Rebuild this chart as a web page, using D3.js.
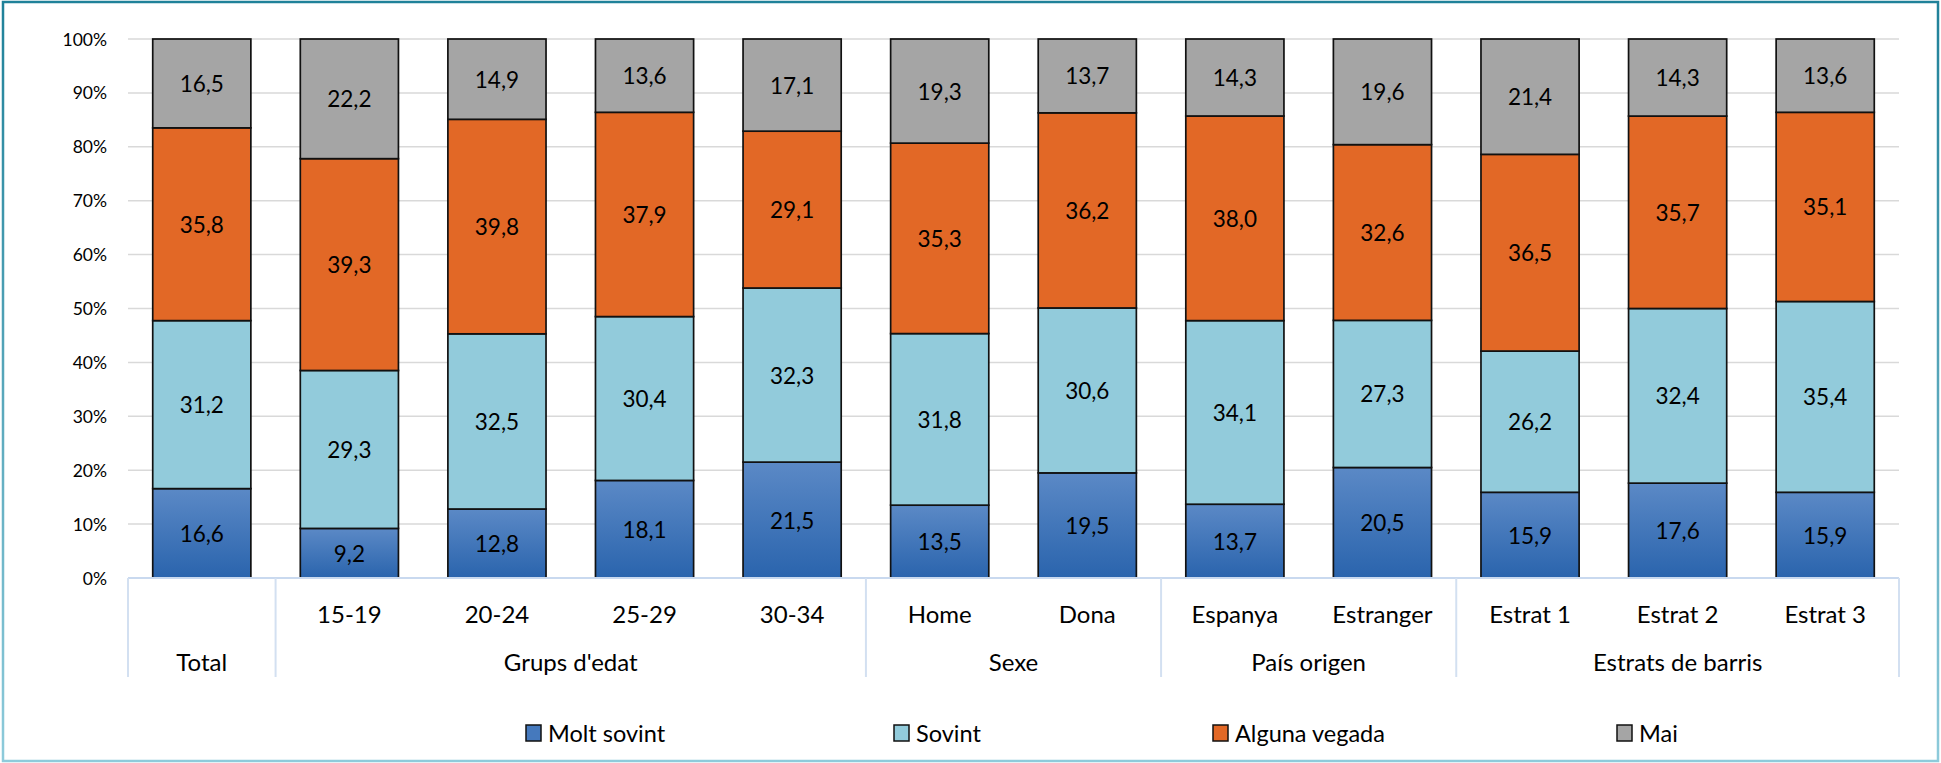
<!DOCTYPE html>
<html>
<head>
<meta charset="utf-8">
<script src="https://cdn.jsdelivr.net/npm/d3@7"></script>
<style>
  body { margin: 0; background: #fff; }
  svg { display: block; font-family: Lato, "Open Sans", sans-serif; }
</style>
</head>
<body>
<svg width="1941" height="763"></svg>
<script>
// categories (first one has no tier-1 label, only the group "Total")
var catLabels = ["", "15-19", "20-24", "25-29", "30-34", "Home", "Dona", "Espanya", "Estranger", "Estrat 1", "Estrat 2", "Estrat 3"];
var groupNames = ["Total", "Grups d'edat", "Sexe", "País origen", "Estrats de barris"];
var groupSizes = [1, 4, 2, 2, 3];

var seriesNames = ["Molt sovint", "Sovint", "Alguna vegada", "Mai"];
var moltSovint = [16.6, 9.2, 12.8, 18.1, 21.5, 13.5, 19.5, 13.7, 20.5, 15.9, 17.6, 15.9];
var sovint = [31.2, 29.3, 32.5, 30.4, 32.3, 31.8, 30.6, 34.1, 27.3, 26.2, 32.4, 35.4];
var algunaVegada = [35.8, 39.3, 39.8, 37.9, 29.1, 35.3, 36.2, 38.0, 32.6, 36.5, 35.7, 35.1];
var mai = [16.5, 22.2, 14.9, 13.6, 17.1, 19.3, 13.7, 14.3, 19.6, 21.4, 14.3, 13.6];

var yTicks = [0, 0.1, 0.2, 0.3, 0.4, 0.5, 0.6, 0.7, 0.8, 0.9, 1];

var colors = ["url(#blueGrad)", "#92cbdb", "#e26826", "#a5a5a5"];
var swatch = ["#4579bd", "#92cbdb", "#e26826", "#a5a5a5"];

var svg = d3.select("svg");
var width = +svg.attr("width"),
    height = +svg.attr("height");

var plotLeft = 128, plotRight = 1899, plotTop = 39, plotBottom = 578;
var legendX = [526, 894, 1213, 1617];  // where each legend swatch sits

var defs = svg.append("defs");
var bg = defs.append("linearGradient").attr("id", "blueGrad")
  .attr("x1", 0).attr("y1", 0).attr("x2", 0).attr("y2", 1);
bg.append("stop").attr("offset", "0%").attr("stop-color", "#5b89c6");
bg.append("stop").attr("offset", "100%").attr("stop-color", "#2a64ad");

var borderGrad = defs.append("linearGradient").attr("id", "borderGrad")
  .attr("gradientUnits", "userSpaceOnUse")
  .attr("x1", 0).attr("y1", 0).attr("x2", 0).attr("y2", height);
borderGrad.append("stop").attr("offset", "0%").attr("stop-color", "#1f8199");
borderGrad.append("stop").attr("offset", "100%").attr("stop-color", "#8ecbdb");

var table = moltSovint.map(function(v, i) {
  return {idx: i, "Molt sovint": v, "Sovint": sovint[i], "Alguna vegada": algunaVegada[i], "Mai": mai[i]};
});

var x = d3.scaleBand()
  .domain(d3.range(catLabels.length))
  .range([plotLeft, plotRight])
  .paddingInner(0.335)
  .paddingOuter(0.1675);

var y = d3.scaleLinear().domain([0, 1]).range([plotBottom, plotTop]);

var comma = d3.formatLocale({decimal: ",", thousands: ".", grouping: [3], currency: ["", "€"]}).format(".1f");

// gridlines
svg.append("g").selectAll("line")
  .data(yTicks.slice(1))
  .enter().append("line")
    .attr("x1", plotLeft).attr("x2", plotRight)
    .attr("y1", function(d) { return y(d); })
    .attr("y2", function(d) { return y(d); })
    .attr("stroke", "#d9d9d9")
    .attr("stroke-width", 1.5);

// y tick labels
svg.append("g").selectAll("text")
  .data(yTicks)
  .enter().append("text")
    .attr("x", 107)
    .attr("y", function(d) { return y(d); })
    .attr("text-anchor", "end")
    .attr("dominant-baseline", "central")
    .attr("font-size", 17.5)
    .attr("fill", "#000")
    .text(d3.format(".0%"));

// stacked bars
var stack = d3.stack().keys(seriesNames).offset(d3.stackOffsetExpand);
var series = stack(table);

var layer = svg.append("g").selectAll("g")
  .data(series)
  .enter().append("g")
    .attr("fill", function(d, i) { return colors[i]; });

layer.selectAll("rect")
  .data(function(d) { return d; })
  .enter().append("rect")
    .attr("x", function(d) { return x(d.data.idx); })
    .attr("y", function(d) { return y(d[1]); })
    .attr("width", x.bandwidth())
    .attr("height", function(d) { return y(d[0]) - y(d[1]); })
    .attr("stroke", "#111")
    .attr("stroke-width", 1.7);

// data labels
var labelG = svg.append("g");
series.forEach(function(s) {
  labelG.selectAll(null)
    .data(s)
    .enter().append("text")
      .attr("x", function(d) { return x(d.data.idx) + x.bandwidth() / 2; })
      .attr("y", function(d) { return (y(d[0]) + y(d[1])) / 2; })
      .attr("text-anchor", "middle")
      .attr("dominant-baseline", "central")
      .attr("font-size", 22.5)
      .attr("fill", "#000")
      .text(function(d) { return comma(d.data[s.key]); });
});

// category axis
var axisBottom = 677;
svg.append("line")
  .attr("x1", plotLeft).attr("x2", plotRight)
  .attr("y1", plotBottom).attr("y2", plotBottom)
  .attr("stroke", "#c9d9ef").attr("stroke-width", 2);

var step = x.step();
var bounds = [0];
groupSizes.forEach(function(n, i) { bounds.push(bounds[i] + n); });

svg.append("g").selectAll("line")
  .data(bounds)
  .enter().append("line")
    .attr("x1", function(k) { return plotLeft + k * step; })
    .attr("x2", function(k) { return plotLeft + k * step; })
    .attr("y1", plotBottom).attr("y2", axisBottom)
    .attr("stroke", "#d3e0f1").attr("stroke-width", 2);

svg.append("g").selectAll("text")
  .data(catLabels)
  .enter().append("text")
    .attr("x", function(d, i) { return x(i) + x.bandwidth() / 2; })
    .attr("y", 613)
    .attr("text-anchor", "middle")
    .attr("dominant-baseline", "central")
    .attr("font-size", 24)
    .text(function(d) { return d; });

svg.append("g").selectAll("text")
  .data(groupNames)
  .enter().append("text")
    .attr("x", function(d, i) { return plotLeft + (bounds[i] + bounds[i + 1]) / 2 * step; })
    .attr("y", 661)
    .attr("text-anchor", "middle")
    .attr("dominant-baseline", "central")
    .attr("font-size", 24)
    .text(function(d) { return d; });

// legend
var legend = svg.append("g").selectAll("g")
  .data(seriesNames)
  .enter().append("g")
    .attr("transform", function(d, i) { return "translate(" + legendX[i] + ",733)"; });

legend.append("rect")
  .attr("x", 0).attr("y", -8)
  .attr("width", 15).attr("height", 16)
  .attr("fill", function(d, i) { return swatch[i]; })
  .attr("stroke", "#111").attr("stroke-width", 1.5);

legend.append("text")
  .attr("x", 22).attr("y", 0)
  .attr("dominant-baseline", "central")
  .attr("font-size", 23.5)
  .text(function(d) { return d; });

// outer border
svg.append("rect")
  .attr("x", 3).attr("y", 2)
  .attr("width", 1935).attr("height", 759)
  .attr("fill", "none")
  .attr("stroke", "url(#borderGrad)")
  .attr("stroke-width", 2.5);
</script>
</body>
</html>
